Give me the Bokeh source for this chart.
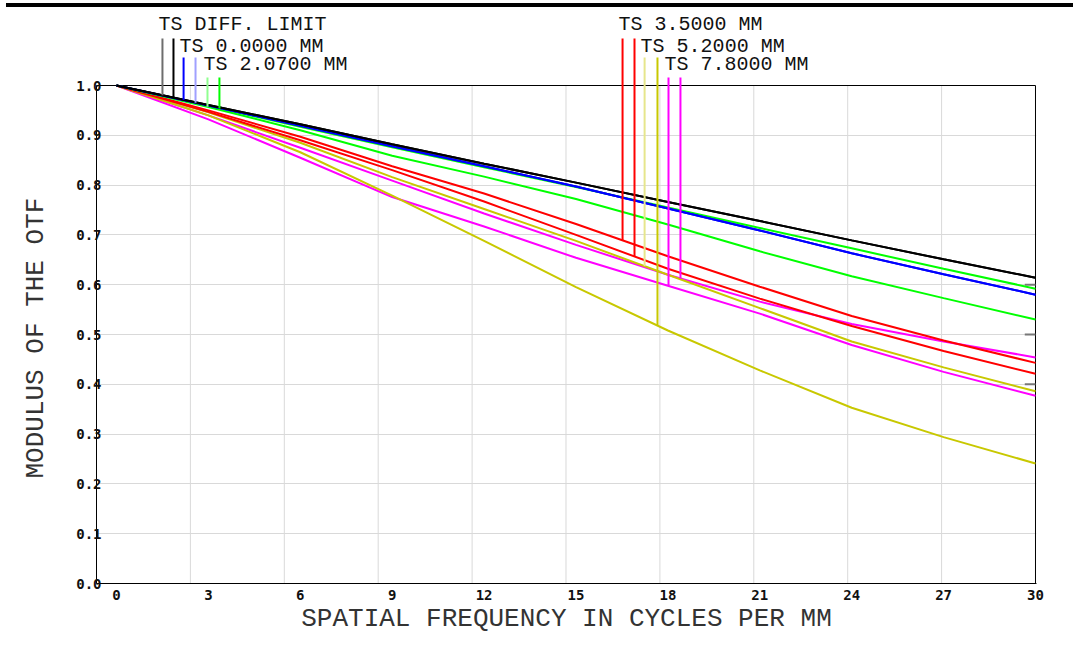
import numpy as np
from bokeh.plotting import figure
from bokeh.models import Range1d, FixedTicker, Div, Title
from bokeh.layouts import column
from bokeh.core.properties import value
from bokeh.embed import file_html
from bokeh.resources import INLINE

# ---------------- data ----------------
freq = [0, 3, 6, 9, 12, 15, 18, 21, 24, 27, 30]

diff_limit = [1.000, 0.961, 0.922, 0.882, 0.843, 0.805, 0.766, 0.728, 0.689, 0.651, 0.614]
f000_t = [1.000, 0.960, 0.919, 0.878, 0.838, 0.797, 0.753, 0.709, 0.663, 0.621, 0.580]
f000_s = [1.000, 0.960, 0.919, 0.878, 0.838, 0.797, 0.753, 0.709, 0.663, 0.621, 0.580]
f207_t = [1.000, 0.957, 0.910, 0.859, 0.817, 0.772, 0.721, 0.667, 0.617, 0.573, 0.530]
f207_s = [1.000, 0.959, 0.917, 0.876, 0.836, 0.796, 0.755, 0.714, 0.673, 0.632, 0.592]
f350_t = [1.000, 0.950, 0.897, 0.838, 0.783, 0.722, 0.657, 0.596, 0.537, 0.488, 0.443]
f350_s = [1.000, 0.947, 0.890, 0.830, 0.767, 0.700, 0.632, 0.572, 0.517, 0.467, 0.421]
f520_t = [1.000, 0.946, 0.885, 0.816, 0.752, 0.688, 0.620, 0.553, 0.486, 0.434, 0.386]
f520_s = [1.000, 0.940, 0.866, 0.779, 0.688, 0.595, 0.508, 0.428, 0.353, 0.294, 0.241]
f780_t = [1.000, 0.932, 0.855, 0.776, 0.717, 0.654, 0.598, 0.542, 0.479, 0.425, 0.377]
f780_s = [1.000, 0.940, 0.875, 0.809, 0.743, 0.680, 0.620, 0.566, 0.521, 0.486, 0.454]

legend_labels = ["TS DIFF. LIMIT", "TS 0.0000 MM", "TS 2.0700 MM",
                 "TS 3.5000 MM", "TS 5.2000 MM", "TS 7.8000 MM"]
# frequencies where the identifying drop-lines meet the T and S curves
marker_f_t = [1.50, 2.19, 2.97, 16.52, 17.24, 18.02]
marker_f_s = [1.86, 2.58, 3.36, 16.91, 17.66, 18.41]

x_ticks = [0, 3, 6, 9, 12, 15, 18, 21, 24, 27, 30]
x_tick_labels = ["0", "3", "6", "9", "12", "15", "18", "21", "24", "27", "30"]
y_ticks = [0.0, 0.1, 0.2, 0.3, 0.4, 0.5, 0.6, 0.7, 0.8, 0.9, 1.0]
y_tick_labels = ["0.0", "0.1", "0.2", "0.3", "0.4", "0.5", "0.6", "0.7", "0.8", "0.9", "1.0"]
edge_marks = [0.6, 0.5, 0.4]

# ---------------- styling / layout ----------------
series = [
    (diff_limit, diff_limit, "#000000", "#6e6e6e", "#000000", 0),
    (f000_t, f000_s, "#0000ff", "#0000ff", "#a0a0ff", 1),
    (f207_t, f207_s, "#00ff00", "#90ff90", "#00ff00", 2),
    (f350_t, f350_s, "#ff0000", "#ff0000", "#ff0000", 0),
    (f520_t, f520_s, "#c8c800", "#e6e68c", "#c8c800", 1),
    (f780_t, f780_s, "#ff00ff", "#ff00ff", "#ff00ff", 2),
]

PX_F = 30.633      # px per cycle/mm
PX_M = 498.0       # px per unit modulus
FIG_TOP = 7        # page y where the figure starts (below the top bar)
PAGE_ZERO = 583    # page y of modulus 0
SHIFT_L = 8        # figure pulled left so the frame edge lands at x=96
BORDER_L, BORDER_R, BORDER_B = 96 + SHIFT_L, 29, 57
FRAME_W, FRAME_H = 940, PAGE_ZERO - FIG_TOP
X_LEFT = -20 / PX_F
X_RIGHT = X_LEFT + FRAME_W / PX_F
Y_TOP = FRAME_H / PX_M


def y_of_page(py):
    return (PAGE_ZERO - py) / PX_M


row_baseline = [y_of_page(24), y_of_page(46), y_of_page(64)]
row_line_top = [y_of_page(38), y_of_page(57), y_of_page(77)]

p = figure(width=BORDER_L + FRAME_W + BORDER_R, height=FRAME_H + BORDER_B,
           x_range=Range1d(X_LEFT, X_RIGHT), y_range=Range1d(0, Y_TOP),
           output_backend="svg", toolbar_location=None,
           min_border_left=BORDER_L, min_border_right=BORDER_R,
           min_border_top=0, min_border_bottom=BORDER_B, margin=(0, 0, 0, -SHIFT_L))
p.outline_line_color = None
p.background_fill_color = "white"
p.border_fill_color = "white"

# grid
p.xgrid.visible = False
p.ygrid.ticker = FixedTicker(ticks=y_ticks[1:-1])
p.ygrid.grid_line_color = "#d9d9d9"
p.ygrid.grid_line_width = 1
x_frame_right = x_ticks[-1]
vgrid = [X_LEFT + k * (x_frame_right - X_LEFT) / 10 for k in range(1, 10)]
p.segment(x0=vgrid, y0=[y_ticks[0]] * 9, x1=vgrid, y1=[y_ticks[-1]] * 9,
          line_color="#d9d9d9", line_width=1)

# frame top and right
p.line(x=[X_LEFT, x_frame_right], y=[y_ticks[-1]] * 2, line_color="black", line_width=1)
p.line(x=[x_frame_right] * 2, y=[y_ticks[0], y_ticks[-1]], line_color="black", line_width=1)
p.segment(x0=[x_frame_right - 0.35] * 3, y0=edge_marks, x1=[x_frame_right] * 3, y1=edge_marks,
          line_color="#777777", line_width=2)

# axes
for ax in (p.xaxis, p.yaxis):
    ax.major_tick_out = 0
    ax.major_tick_in = 0
    ax.minor_tick_out = 0
    ax.minor_tick_in = 0
    ax.axis_line_color = "black"
    ax.axis_line_width = 1
    ax.major_label_text_font = "DejaVu Sans Mono"
    ax.major_label_text_font_style = "bold"
    ax.major_label_text_font_size = "14px"
    ax.major_label_text_color = "#111111"
    ax.axis_label_text_font = "Liberation Mono"
    ax.axis_label_text_font_style = "normal"
    ax.axis_label_text_font_size = "26px"
    ax.axis_label_text_color = "#333333"

p.xaxis.ticker = FixedTicker(ticks=x_ticks)
p.xaxis.major_label_overrides = {t: s for t, s in zip(x_ticks, x_tick_labels)}
p.xaxis.major_label_standoff = 6
p.xaxis.axis_label = "SPATIAL FREQUENCY IN CYCLES PER MM"
p.xaxis.axis_label_standoff = 1

p.yaxis.ticker = FixedTicker(ticks=y_ticks)
p.yaxis.major_label_overrides = {t: s for t, s in zip(y_ticks, y_tick_labels)}
p.yaxis.bounds = (y_ticks[0], y_ticks[-1])
p.yaxis.major_label_standoff = -5

ytitle = Title(text="MODULUS OF THE OTF", align="left", offset=105,
               text_font="Liberation Mono", text_font_size="26px",
               text_font_style="normal", text_color="#333333", standoff=46)
p.add_layout(ytitle, "left")

# curves (draw aberrated fields first, diffraction limit on top)
for t_vals, s_vals, col, _, _, _ in reversed(series):
    p.line(freq, s_vals, line_color=col, line_width=2)
    p.line(freq, t_vals, line_color=col, line_width=2)

# identifying drop-lines and labels
for i, (t_vals, s_vals, col, col_t, col_s, row) in enumerate(series):
    ft, fs = marker_f_t[i], marker_f_s[i]
    p.segment(x0=[ft], y0=[row_line_top[row]], x1=[ft], y1=[float(np.interp(ft, freq, t_vals))],
              line_color=col_t, line_width=2)
    p.segment(x0=[fs], y0=[row_line_top[row]], x1=[fs], y1=[float(np.interp(fs, freq, s_vals))],
              line_color=col_s, line_width=2)
    p.text(x=[ft - 4 / PX_F], y=[row_baseline[row]], text=[legend_labels[i]],
           text_font=value("Liberation Mono"), text_font_size="20px",
           text_color="#111111", text_align="left", text_baseline="alphabetic")

bar = Div(text="", width=1067, height=4, margin=(3, 0, 0, 6),
          styles={"background-color": "#000000"})
layout = column(bar, p, spacing=0, margin=(0, 0, 0, 0))

open("out.html", "w").write(file_html(layout, INLINE))
